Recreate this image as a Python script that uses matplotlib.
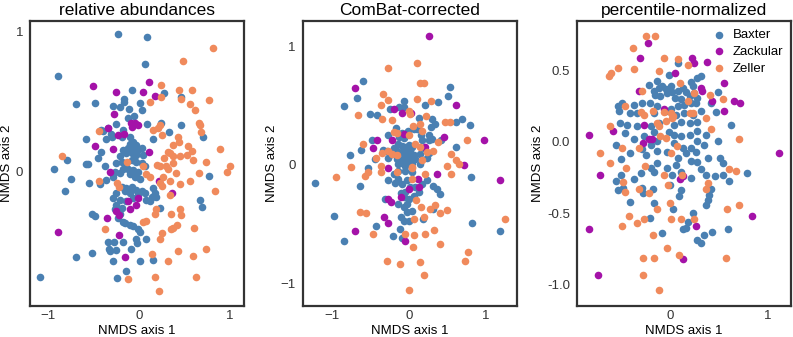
import matplotlib
matplotlib.use("Agg")
import matplotlib.pyplot as plt
import numpy as np

plt.rcParams['font.family'] = ['Liberation Sans', 'DejaVu Sans']

studies = ['Baxter', 'Zackular', 'Zeller']
colors = ['#4a80b2', '#a412a8', '#f08a5c']
titles = ['relative abundances', 'ComBat-corrected', 'percentile-normalized']

# --- relative abundances (NMDS axis 1, axis 2) ---
ra_baxter = [
    (-0.23, 0.98), (0.09, 0.96), (0.07, 0.77), (-0.89, 0.68), (-0.69, 0.48), (-0.48, 0.49),
    (-0.08, 0.58), (0.28, 0.56), (-0.16, 0.52), (-0.16, 0.50), (-0.21, 0.46), (-0.29, 0.47),
    (0.01, 0.49), (0.04, 0.44), (-0.11, 0.45), (-0.12, 0.38), (-0.05, 0.40), (-0.25, 0.34),
    (0.09, 0.34), (0.25, 0.35), (0.46, 0.33), (0.47, 0.53), (-0.42, 0.30), (-0.34, 0.31),
    (-0.17, 0.30), (-0.30, 0.25), (-0.10, 0.25), (-0.36, 0.23), (-0.58, 0.23), (0.16, 0.23),
    (0.33, 0.28), (0.71, 0.25), (-0.79, 0.08), (-0.56, 0.055), (-0.58, 0.055), (-0.93, 0.02),
    (-0.39, 0.29), (-0.31, 0.27), (-0.19, 0.25), (-0.10, 0.20), (-0.06, 0.21), (-0.03, 0.19),
    (-0.12, 0.17), (-0.06, 0.17), (-0.01, 0.155), (0.03, 0.17), (-0.17, 0.155), (-0.14, 0.13),
    (-0.08, 0.13), (-0.03, 0.12), (0.05, 0.12), (-0.21, 0.11), (-0.25, 0.06), (-0.19, 0.07),
    (-0.14, 0.06), (-0.08, 0.08), (-0.03, 0.07), (0.03, 0.06), (0.07, 0.04), (-0.17, 0.02),
    (-0.12, 0.02), (-0.06, 0.01), (-0.01, 0.0), (-0.04, -0.04), (0.01, -0.05), (-0.10, -0.02),
    (-0.21, -0.01), (-0.26, 0.0), (-0.28, -0.04), (-0.42, 0.14), (-0.45, 0.10), (-0.37, 0.04),
    (-0.55, -0.08), (-0.43, -0.09), (-0.36, -0.06), (-0.19, -0.11), (-0.14, -0.12), (-0.08, -0.11),
    (-0.03, -0.13), (0.03, -0.14), (-0.10, -0.15), (-0.15, -0.14), (-0.25, -0.15), (-0.28, -0.19),
    (-0.21, -0.20), (-0.14, -0.21), (-0.06, -0.19), (-0.01, -0.17), (0.07, -0.15), (0.08, -0.20),
    (0.14, -0.18), (0.19, -0.18), (-0.25, -0.24), (-0.19, -0.26), (-0.52, -0.30), (-0.48, -0.32),
    (-0.26, -0.27), (0.12, -0.21), (0.18, -0.15), (0.16, -0.12),
    (-1.09, -0.75), (-0.81, -0.14), (-0.75, -0.05), (-0.69, -0.61), (-0.52, -0.58), (-0.34, -0.50),
    (-0.27, -0.50), (-0.33, -0.55), (-0.32, -0.57), (-0.25, -0.56), (-0.17, -0.50), (-0.28, -0.64),
    (-0.24, -0.76), (-0.14, -0.71), (-0.09, -0.55), (-0.03, -0.48), (-0.02, -0.51), (0.01, -0.43),
    (-0.01, -0.41), (-0.06, -0.39), (-0.10, -0.38), (-0.15, -0.37), (-0.17, -0.36), (-0.23, -0.33),
    (-0.21, -0.30), (0.01, -0.64), (0.16, -0.63), (0.08, -0.48), (0.67, -0.20), (0.70, -0.25),
    (0.77, -0.03), (0.23, -0.26),
]
ra_zackular = [
    (-0.50, 0.61), (-0.25, 0.57), (0.05, 0.57), (0.11, 0.64), (0.18, 0.54), (-0.27, 0.41),
    (-0.09, 0.35), (-0.04, 0.35), (-0.07, 0.32), (-0.01, 0.33), (-0.34, 0.31), (-0.16, 0.27),
    (-0.23, 0.26), (-0.48, 0.18), (-0.29, 0.16), (0.11, 0.14), (-0.32, 0.0), (0.22, -0.07),
    (0.37, -0.15), (-0.12, -0.21), (-0.10, -0.27), (-0.03, -0.24), (-0.01, -0.19), (-0.25, -0.28),
    (-0.22, -0.31), (-0.35, -0.33), (-0.89, -0.43), (-0.22, -0.45), (-0.15, -0.61),
]
ra_zeller = [
    (0.82, 0.88), (0.49, 0.79), (0.24, 0.62), (0.44, 0.58), (0.59, 0.58), (0.25, 0.53),
    (0.46, 0.52), (0.77, 0.51), (0.12, 0.50), (0.56, 0.48), (0.62, 0.44), (0.66, 0.35),
    (0.67, 0.33), (0.69, 0.28), (0.16, 0.30), (0.21, 0.31), (0.23, 0.33), (0.26, 0.26),
    (-0.44, 0.29), (0.43, 0.25), (0.44, 0.21), (0.38, 0.19), (0.89, 0.16), (0.54, 0.18),
    (0.59, 0.15), (0.34, 0.13), (0.38, 0.11), (0.45, 0.11), (0.53, 0.12), (0.60, 0.08),
    (0.74, 0.07), (0.28, 0.10), (0.20, 0.05), (0.23, 0.04), (0.32, 0.02), (-0.85, 0.11),
    (1.01, 0.04), (0.97, 0.0), (0.05, 0.04), (-0.13, 0.07), (0.66, -0.01), (0.84, -0.14),
    (0.56, -0.07), (0.45, -0.09), (0.27, -0.04), (0.23, -0.08), (0.26, -0.10), (0.08, -0.02),
    (0.30, 0.04), (0.38, 0.06), (-0.44, -0.07), (-0.24, -0.08), (-0.22, -0.11), (0.34, -0.17),
    (0.45, -0.27), (0.46, -0.31), (0.36, -0.30), (0.19, -0.27), (0.18, -0.30), (0.08, -0.35),
    (0.05, -0.36), (-0.37, -0.41), (0.35, -0.41), (0.38, -0.40), (0.42, -0.38), (0.61, -0.40),
    (0.26, -0.44), (0.23, -0.48), (0.74, -0.55), (0.60, -0.60), (0.43, -0.57), (0.14, -0.59),
    (0.32, -0.64), (0.18, -0.75), (0.63, -0.75), (0.22, -0.85), (-0.12, -0.77), (0.32, 0.14),
    (0.41, -0.01), (0.12, -0.04), (0.34, -0.07),
]

# --- ComBat-corrected ---
cb_baxter = [
    (-0.60, 0.71), (-0.68, 0.57), (-0.85, 0.50), (0.54, 0.66), (0.51, 0.58), (0.38, 0.53),
    (0.21, 0.51), (-0.07, 0.54), (-0.13, 0.49), (-0.06, 0.49), (-0.25, 0.47), (-0.51, 0.43),
    (-0.42, 0.42), (0.69, 0.39), (0.61, 0.36), (0.79, 0.34), (0.30, 0.39), (0.34, 0.35),
    (0.29, 0.32), (0.13, 0.40), (0.06, 0.30), (0.10, 0.30), (-0.01, 0.29), (-0.17, 0.31),
    (-0.09, 0.27), (-0.13, 0.24), (-0.07, 0.23), (-0.27, 0.25), (-0.48, 0.21), (0.16, 0.25),
    (0.26, 0.25), (0.17, 0.21), (0.26, 0.21), (0.30, 0.22), (0.42, 0.21), (0.61, 0.15),
    (-0.62, 0.13), (-0.77, 0.08), (-0.34, 0.13), (-0.29, 0.12), (-0.20, 0.14), (-0.16, 0.12),
    (-0.22, 0.09), (-0.27, 0.06), (-0.14, 0.18), (-0.09, 0.16), (-0.05, 0.15), (0.00, 0.17),
    (0.04, 0.15), (-0.03, 0.11), (0.02, 0.12), (-0.09, 0.11), (-0.14, 0.09), (-0.07, 0.06),
    (-0.03, 0.06), (0.02, 0.06), (0.06, 0.08), (0.08, 0.05), (0.04, 0.02), (-0.03, 0.02),
    (-0.09, 0.02), (-0.16, 0.05), (-0.14, 0.01), (-0.05, -0.01), (0.02, 0.01), (0.15, 0.09),
    (0.19, 0.14), (0.26, 0.10), (0.24, 0.06), (0.15, 0.01), (-0.53, -0.03), (-0.44, 0.05),
    (-1.22, -0.15), (-0.64, -0.18), (-0.98, -0.43), (-0.85, -0.64), (-0.43, -0.52), (-0.21, -0.60),
    (-0.12, -0.54), (-0.09, -0.62), (-0.31, -0.29), (-0.14, -0.12), (-0.18, -0.15), (-0.09, -0.16),
    (-0.03, -0.13), (0.02, -0.19), (-0.05, -0.23), (-0.11, -0.24), (-0.07, -0.27), (0.0, -0.29),
    (0.06, -0.26), (0.13, -0.23), (0.08, -0.19), (0.17, -0.16), (0.24, -0.13), (-0.14, -0.33),
    (-0.07, -0.36), (-0.03, -0.33), (0.04, -0.39), (-0.03, -0.40), (-0.11, -0.44), (-0.07, -0.47),
    (0.0, -0.47), (-0.27, -0.13), (-0.20, -0.08), (-0.14, -0.05), (-0.05, -0.05), (0.04, -0.06),
    (0.32, -0.18), (0.37, -0.20), (0.40, -0.25), (0.31, -0.37), (0.18, -0.46), (0.81, -0.10),
    (0.82, -0.49), (1.19, -0.56),
]
cb_zackular = [
    (0.26, 1.09), (-0.71, 0.65), (0.62, 0.51), (-0.20, 0.47), (-0.09, 0.44), (0.03, 0.44),
    (-0.06, 0.26), (-0.42, 0.21), (-0.47, 0.14), (-0.22, 0.21), (0.46, 0.24), (0.98, 0.21),
    (0.21, 0.15), (0.72, 0.0), (-0.27, -0.03), (0.37, -0.08), (0.12, -0.12), (0.13, -0.19),
    (0.0, -0.20), (1.19, -0.13), (-0.27, -0.29), (-0.23, -0.31), (-0.10, -0.27), (-0.32, -0.44),
    (-0.27, -0.49), (-0.71, -0.56), (-0.05, -0.64),
]
cb_zeller = [
    (0.11, 0.86), (-0.27, 0.82), (0.14, 0.69), (0.20, 0.69), (-0.34, 0.60), (-0.27, 0.55),
    (-0.36, 0.51), (0.11, 0.56), (0.29, 0.54), (-0.67, 0.42), (-0.35, 0.39), (-0.22, 0.38),
    (0.0, 0.46), (0.02, 0.43), (0.22, 0.41), (0.47, 0.36), (0.54, 0.36), (0.05, 0.33),
    (0.15, 0.35), (0.17, 0.29), (-0.20, 0.28), (-0.16, 0.27), (0.0, 0.25), (-0.60, 0.18),
    (0.08, 0.18), (0.15, 0.15), (0.38, 0.19), (0.76, 0.21), (-0.27, 0.12), (-0.22, 0.09),
    (-0.35, 0.10), (-0.43, 0.06), (-0.75, -0.02), (-0.36, -0.01), (0.55, 0.09), (0.61, 0.04),
    (0.65, 0.01), (0.50, -0.01), (-0.16, 0.08), (0.04, -0.02), (0.17, 0.04), (0.24, 0.11),
    (0.32, 0.12), (-0.53, -0.06), (-0.37, -0.06), (-0.16, -0.06), (0.04, -0.12), (-0.95, -0.10),
    (-0.57, -0.09), (0.04, -0.03), (0.21, -0.08), (0.55, -0.08), (0.09, -0.30), (0.16, -0.36),
    (0.28, -0.37), (0.34, -0.34), (-0.64, -0.40), (-0.56, -0.41), (0.07, -0.46), (0.20, -0.44),
    (0.40, -0.41), (0.50, -0.38), (1.25, -0.46), (0.33, -0.55), (0.21, -0.58), (0.07, -0.59),
    (-0.05, -0.58), (-0.47, -0.58), (0.40, -0.67), (0.05, -0.69), (0.77, -0.74), (0.73, -0.81),
    (-0.29, -0.81), (-0.12, -0.84), (0.14, -0.82), (0.20, -0.93), (0.0, -1.06),
]

# --- percentile-normalized ---
pn_baxter = [
    (-0.01, 0.47), (0.08, 0.55), (0.21, 0.42), (0.28, 0.45), (0.32, 0.46), (0.23, 0.39),
    (-0.22, 0.40), (-0.14, 0.43), (-0.17, 0.36), (-0.11, 0.38), (-0.08, 0.39), (-0.04, 0.37),
    (0.01, 0.39), (0.02, 0.35), (0.08, 0.36), (0.13, 0.38), (0.16, 0.35), (-0.03, 0.34),
    (-0.10, 0.32), (-0.16, 0.33), (0.05, 0.31), (0.11, 0.30), (0.20, 0.32), (0.25, 0.34),
    (0.28, 0.31), (0.49, 0.35), (0.21, 0.27), (0.27, 0.27), (0.14, 0.26), (0.08, 0.25),
    (0.01, 0.23), (-0.04, 0.22), (-0.13, 0.25), (-0.21, 0.27), (-0.29, 0.27), (-0.37, 0.26),
    (-0.50, 0.27), (-0.54, 0.25), (-0.53, 0.22), (-0.41, 0.20), (-0.34, 0.20), (-0.17, 0.20),
    (0.06, 0.19), (0.14, 0.20), (0.23, 0.19), (0.32, 0.22), (0.42, 0.27), (0.47, 0.21),
    (0.28, 0.14), (0.20, 0.13), (0.11, 0.14), (0.04, 0.12), (-0.11, 0.13), (-0.20, 0.11),
    (-0.34, 0.11), (-0.44, 0.12), (-0.52, 0.13), (-0.46, 0.06), (-0.37, 0.02), (-0.27, 0.04),
    (-0.17, 0.07), (-0.01, 0.07), (0.04, 0.05), (0.11, 0.04), (0.20, 0.05), (0.28, 0.08),
    (0.37, 0.05), (0.49, 0.01), (0.63, 0.12), (0.28, 0.01), (0.21, -0.04), (0.13, -0.04),
    (0.04, -0.01), (-0.13, 0.01), (-0.20, -0.02), (-0.29, -0.05), (-0.56, -0.02), (-0.51, -0.12),
    (-0.41, -0.08), (-0.25, -0.09), (-0.13, -0.06), (-0.03, -0.07), (0.08, -0.11), (0.16, -0.08),
    (0.27, -0.07), (0.35, -0.02), (0.39, -0.11), (0.51, -0.11), (0.54, -0.15), (0.21, -0.13),
    (0.28, -0.14), (0.06, -0.16), (-0.03, -0.18), (-0.13, -0.15), (-0.20, -0.18), (-0.17, -0.21),
    (-0.30, -0.22), (-0.37, -0.26), (-0.51, -0.23), (-0.56, -0.27), (-0.48, -0.32), (-0.29, -0.32),
    (-0.18, -0.33), (0.0, -0.30), (0.02, -0.23), (0.21, -0.25), (0.32, -0.19), (0.37, -0.23),
    (0.46, -0.24), (0.54, -0.23), (0.11, -0.21), (-0.54, -0.34), (-0.41, -0.42), (-0.28, -0.36),
    (-0.17, -0.43), (-0.21, -0.53), (-0.08, -0.64), (0.03, -0.47), (0.09, -0.38), (0.11, -0.34),
    (0.24, -0.50), (0.18, -0.56), (0.16, -0.60), (0.13, -0.61), (0.28, -0.69), (0.32, -0.71),
    (0.35, -0.65), (0.43, -0.63), (0.59, -0.61), (0.37, -0.44), (0.39, -0.41), (0.40, -0.37),
    (0.42, -0.33), (0.61, -0.27), (0.79, -0.22),
]
pn_zackular = [
    (-0.23, 0.69), (-0.31, 0.59), (0.22, 0.59), (0.25, 0.55), (0.38, 0.56), (0.05, 0.48),
    (-0.32, 0.36), (0.32, 0.38), (0.33, 0.36), (0.43, 0.29), (0.55, 0.41), (0.66, 0.29),
    (0.72, 0.27), (0.55, 0.22), (-0.06, 0.23), (-0.27, 0.12), (-0.59, 0.08), (-0.83, 0.05),
    (-0.22, 0.02), (-0.19, 0.02), (-0.28, -0.01), (1.12, -0.08), (-0.72, -0.23), (0.10, -0.26),
    (0.13, -0.24), (-0.83, -0.61), (-0.74, -0.93), (0.27, -0.59), (0.13, -0.82), (0.84, -0.52),
]
pn_zeller = [
    (-0.25, 0.74), (-0.16, 0.74), (-0.38, 0.66), (-0.37, 0.51), (-0.54, 0.52), (-0.61, 0.48),
    (-0.63, 0.46), (-0.06, 0.59), (0.08, 0.58), (0.18, 0.54), (-0.11, 0.50), (0.10, 0.41),
    (0.25, 0.34), (0.41, 0.33), (0.54, 0.30), (-0.29, 0.36), (-0.46, 0.25), (-0.30, 0.21),
    (-0.27, 0.19), (-0.06, 0.21), (0.01, 0.20), (0.03, 0.18), (0.20, 0.20), (0.23, 0.20),
    (0.37, 0.17), (-0.13, 0.13), (-0.11, 0.11), (-0.62, 0.11), (0.42, 0.09), (-0.10, 0.04),
    (-0.04, 0.03), (0.07, -0.03), (-0.72, -0.08), (-0.62, -0.15), (0.71, 0.02), (-0.32, -0.04),
    (0.01, -0.08), (-0.45, -0.18), (-0.26, -0.17), (-0.06, -0.23), (0.61, -0.19), (0.68, -0.20),
    (-0.48, -0.28), (-0.46, -0.35), (-0.32, -0.33), (-0.22, -0.36), (-0.02, -0.30), (0.0, -0.43),
    (-0.14, -0.47), (0.39, -0.29), (0.37, -0.33), (0.58, -0.47), (0.71, -0.44), (-0.50, -0.59),
    (-0.42, -0.52), (-0.34, -0.57), (-0.27, -0.54), (0.01, -0.54), (0.11, -0.54), (0.25, -0.54),
    (-0.18, -0.65), (-0.03, -0.74), (0.09, -0.79), (-0.28, -0.81), (-0.17, -0.81), (0.57, -0.81),
    (-0.28, -0.93), (-0.11, -1.04), (0.12, -0.23), (-0.49, -0.04), (-0.18, 0.22), (0.18, 0.29),
    (-0.04, 0.15), (0.02, 0.17),
]

panels = [
    [ra_baxter, ra_zackular, ra_zeller],
    [cb_baxter, cb_zackular, cb_zeller],
    [pn_baxter, pn_zackular, pn_zeller],
]
xlims = [(-1.20, 1.165), (-1.386, 1.412), (-0.958, 1.248)]
ylims = [(-0.96, 1.076), (-1.193, 1.218), (-1.149, 0.848)]
xticks = [[-1, 0, 1], [-1, 0, 1], [0, 1]]
yticks = [[0, 1], [-1, 0, 1], [-1.0, -0.5, 0.0, 0.5]]
lefts = [0.0378, 0.3817, 0.7276]

fig = plt.figure(figsize=(7.93, 3.37), dpi=100)
for i in range(3):
    ax = fig.add_axes([lefts[i], 0.092, 0.2705, 0.846])
    for pts, name, c in zip(panels[i], studies, colors):
        arr = np.array(pts)
        ax.scatter(arr[:, 0], arr[:, 1], s=30, color=c, linewidths=0, label=name)
    ax.set_xlim(xlims[i])
    ax.set_ylim(ylims[i])
    ax.set_xticks(xticks[i])
    ax.set_yticks(yticks[i])
    if i == 2:
        ax.set_yticklabels(['%.1f' % v for v in yticks[i]])
    ax.tick_params(length=0, labelsize=9.5, colors='#333333')
    ax.tick_params(axis='x', pad=3)
    ax.tick_params(axis='y', pad=5)
    ax.set_title(titles[i], fontsize=12.5, pad=4)
    ax.set_xlabel('NMDS axis 1', fontsize=9.5, labelpad=2)
    ax.set_ylabel('NMDS axis 2', fontsize=9.5, labelpad=2)
    for sp in ax.spines.values():
        sp.set_color('#333333')
        sp.set_linewidth(1.6)
    if i == 2:
        ax.legend(loc='upper right', frameon=False, fontsize=9.5, handletextpad=0.1,
                  borderaxespad=0.2, labelspacing=0.35, scatterpoints=1)

fig.savefig('out.png', dpi=100)
